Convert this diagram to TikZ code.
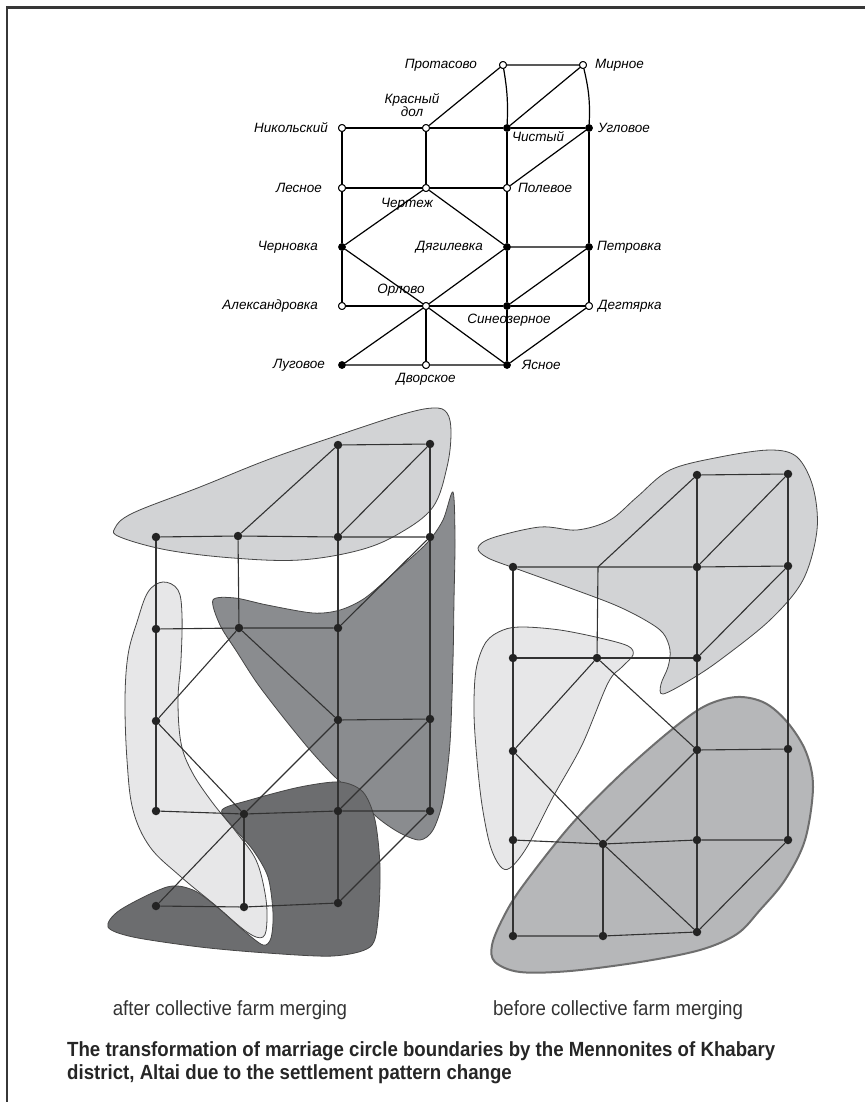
\documentclass[tikz,border=0pt]{standalone}
\usepackage{fontspec}
\setmainfont{Liberation Sans}
\newfontfamily\capfont{Liberation Sans}[FakeStretch=0.91]
\usepackage{tikz}
\usetikzlibrary{positioning}
\usepackage{xcolor}
\definecolor{framegrey}{RGB}{55,55,55}
\definecolor{dotgrey}{RGB}{35,35,35}
\definecolor{edgegrey}{RGB}{50,50,50}
\definecolor{rimgrey}{RGB}{70,70,70}
\definecolor{lightblob}{RGB}{210,211,213}
\definecolor{paleblob}{RGB}{231,231,232}
\definecolor{midblob}{RGB}{138,140,143}
\definecolor{darkblob}{RGB}{108,109,111}
\definecolor{softblob}{RGB}{182,183,185}
\definecolor{softrim}{RGB}{110,110,110}
\newcommand{\mapfont}{\fontsize{13.5}{11.5}\selectfont\itshape}

\begin{document}
\begin{tikzpicture}[x=1pt, y=-1pt, node distance=6pt,
  opendot/.style={circle, draw, fill=white, inner sep=0pt, minimum size=7pt, line width=0.9pt},
  fulldot/.style={circle, fill=black, inner sep=0pt, minimum size=7.5pt},
  gdot/.style={circle, fill=dotgrey, inner sep=0pt, minimum size=8.5pt},
  maplbl/.style={font=\mapfont, inner sep=0pt},
  mapline/.style={line width=1.2pt},
  gline/.style={draw=edgegrey, line width=1.1pt},
  blob/.style={draw=rimgrey, line width=0.8pt},
  subcap/.style={font=\capfont\fontsize{20.5}{22}\selectfont, text=black!80, inner sep=0pt}]
  \useasboundingbox (0,0) rectangle (865,1102);
  \draw[framegrey, line width=2.5pt] (7,1102) -- (7,7.5) -- (865,7.5);

  % --- old settlement map ---
  \node[opendot] (prot) at (503,65) {};
  \node[opendot] (mir) at (583,65) {};
  \node[opendot] (nik) at (342,128) {};
  \node[opendot] (kd) at (426,128) {};
  \node[fulldot] (chis) at (507,128) {};
  \node[fulldot] (ugl) at (589,128) {};
  \node[opendot] (les) at (342,188) {};
  \node[opendot] (cher) at (426,188) {};
  \node[opendot] (pol) at (507,188) {};
  \node[fulldot] (chern) at (342,247) {};
  \node[fulldot] (dyag) at (507,247) {};
  \node[fulldot] (petr) at (589,247) {};
  \node[opendot] (alex) at (342,306) {};
  \node[opendot] (orl) at (426,306) {};
  \node[fulldot] (sin) at (507,306) {};
  \node[opendot] (degt) at (589,306) {};
  \node[fulldot] (lug) at (342,365) {};
  \node[opendot] (dvor) at (426,365) {};
  \node[fulldot] (yas) at (507,365) {};

  \begin{scope}[mapline]
    \draw (nik) -- (kd) -- (chis) -- (ugl);
    \draw (kd) -- (prot) -- (mir) -- (chis);
    \draw (prot) to[bend left=6] (chis);
    \draw (mir) to[bend left=8] (ugl);
    \draw (nik) -- (les) -- (chern) -- (alex);
    \draw (kd) -- (cher);
    \draw (les) -- (cher) -- (pol);
    \draw (chis) -- (pol) -- (dyag) -- (sin) -- (yas);
    \draw (ugl) -- (pol);
    \draw (ugl) -- (petr) -- (degt);
    \draw (chern) -- (cher) -- (dyag);
    \draw (chern) -- (orl) -- (yas);
    \draw (lug) -- (orl) -- (dyag) -- (petr) -- (sin);
    \draw (alex) -- (orl) -- (sin) -- (degt);
    \draw (orl) -- (dvor);
    \draw (lug) -- (dvor) -- (yas) -- (degt);
  \end{scope}
  % redraw the dots over the lines
  \foreach \n in {prot,mir,nik,kd,les,cher,pol,alex,orl,degt,dvor}
    \node[opendot] at (\n) {};
  \foreach \n in {chis,ugl,chern,dyag,petr,sin,lug,yas}
    \node[fulldot] at (\n) {};

  \node[maplbl, left=22pt of prot] (tprot) {Протасово};
  \node[maplbl, right=8pt of mir] (tmir) {Мирное};
  \node[maplbl, align=center, above=7pt of kd, xshift=-14pt] (tkd) {Красный\\дол};
  \node[maplbl, left=10pt of nik] (tnik) {Никольский};
  \node[maplbl, below right=1pt and 2pt of chis] (tchis) {Чистый};
  \node[maplbl, right=5pt of ugl] (tugl) {Угловое};
  \node[maplbl, left=16pt of les] (tles) {Лесное};
  \node[maplbl, below=6pt of cher, xshift=-19pt] (tcher) {Чертеж};
  \node[maplbl, right=7pt of pol] (tpol) {Полевое};
  \node[maplbl, left=20pt of chern] (tchern) {Черновка};
  \node[maplbl, left=20pt of dyag] (tdyag) {Дягилевка};
  \node[maplbl, right=4pt of petr] (tpetr) {Петровка};
  \node[maplbl, above=6pt of orl, xshift=-25pt] (torl) {Орлово};
  \node[maplbl, left=20pt of alex] (talex) {Александровка};
  \node[maplbl, below=4pt of sin, xshift=2pt] (tsin) {Синеозерное};
  \node[maplbl, right=5pt of degt] (tdegt) {Дегтярка};
  \node[maplbl, left=13pt of lug] (tlug) {Луговое};
  \node[maplbl, below=4pt of dvor] (tdvor) {Дворское};
  \node[maplbl, right=11pt of yas] (tyas) {Ясное};

  % --- after merging: circles ---
  \fill[lightblob, blob] plot[smooth cycle, tension=0.6] coordinates {
    (115,528) (133,513) (200,487) (267,460) (333,437) (400,415) (433,408)
    (447,413) (451,433) (447,467) (433,507) (400,533) (360,550) (300,560)
    (233,558) (167,550) (120,537)};
  \fill[paleblob, blob] plot[smooth cycle, tension=0.6] coordinates {
    (163,582) (178,590) (182,615) (181,660) (178,700) (181,743) (192,772)
    (212,802) (237,833) (256,860) (265,893) (267,920) (263,937) (247,932)
    (215,905) (180,876) (150,847) (133,810) (127,760) (125,700) (128,655)
    (137,622) (148,592)};
  \fill[midblob, blob] plot[smooth cycle, tension=0.5] coordinates {
    (213,600) (235,598) (267,605) (313,613) (340,610) (365,598) (395,572)
    (427,543) (443,520) (453,492) (455,540) (454,600) (453,660) (450,743)
    (443,800) (433,830) (420,840) (400,833) (378,818) (355,795) (333,775)
    (310,750) (283,717) (257,683) (237,652) (220,625)};
  \fill[darkblob, blob] plot[smooth cycle, tension=0.5] coordinates {
    (222,810) (250,800) (300,787) (340,782) (363,792) (375,820) (380,867)
    (378,920) (370,947) (333,956) (267,953) (200,947) (133,937) (108,927)
    (120,910) (167,887) (193,890) (217,907) (243,930) (263,945) (271,938)
    (273,913) (268,877) (253,850) (233,827)};

  % --- after merging: graph ---
  \node[gdot] (Lprot) at (338,445) {};
  \node[gdot] (Lmir) at (430,444) {};
  \node[gdot] (Lnik) at (156,537) {};
  \node[gdot] (Lkd) at (238,536) {};
  \node[gdot] (Lchis) at (338,537) {};
  \node[gdot] (Lugl) at (430,537) {};
  \node[gdot] (Lles) at (156,629) {};
  \node[gdot] (Lcher) at (239,628) {};
  \node[gdot] (Lpol) at (338,628) {};
  \node[gdot] (Lchern) at (156,721) {};
  \node[gdot] (Ldyag) at (338,720) {};
  \node[gdot] (Lpetr) at (430,719) {};
  \node[gdot] (Lalex) at (156,811) {};
  \node[gdot] (Lorl) at (244,814) {};
  \node[gdot] (Lsin) at (338,811) {};
  \node[gdot] (Ldegt) at (430,811) {};
  \node[gdot] (Llug) at (156,906) {};
  \node[gdot] (Ldvor) at (244,907) {};
  \node[gdot] (Lyas) at (338,903) {};

  \begin{scope}[gline]
    \draw (Lnik) -- (Lkd) -- (Lchis) -- (Lugl);
    \draw (Lkd) -- (Lprot) -- (Lmir) -- (Lchis);
    \draw (Lprot) -- (Lchis);
    \draw (Lmir) -- (Lugl);
    \draw (Lnik) -- (Lles) -- (Lchern) -- (Lalex);
    \draw (Lkd) -- (Lcher);
    \draw (Lles) -- (Lcher) -- (Lpol);
    \draw (Lchis) -- (Lpol) -- (Ldyag) -- (Lsin) -- (Lyas);
    \draw (Lugl) -- (Lpol);
    \draw (Lugl) -- (Lpetr) -- (Ldegt);
    \draw (Lchern) -- (Lcher) -- (Ldyag);
    \draw (Lchern) -- (Lorl);
    \draw (Llug) -- (Lorl) -- (Ldyag) -- (Lpetr) -- (Lsin);
    \draw (Lalex) -- (Lorl) -- (Lsin) -- (Ldegt);
    \draw (Lorl) -- (Ldvor);
    \draw (Llug) -- (Ldvor) -- (Lyas) -- (Ldegt);
  \end{scope}

  % --- before merging: circles ---
  \fill[lightblob, blob] plot[smooth cycle, tension=0.55] coordinates {
    (478,548) (492,538) (540,527) (577,530) (610,520) (637,497) (670,470)
    (720,457) (770,450) (797,457) (813,487) (817,530) (803,580) (770,620)
    (720,660) (690,680) (663,694) (661,684) (668,667) (670,650) (663,633)
    (645,620) (615,605) (570,588) (520,570) (488,558)};
  \fill[paleblob, blob] plot[smooth cycle, tension=0.55] coordinates {
    (523,627) (560,630) (600,638) (628,646) (633,655) (622,667) (608,683)
    (582,745) (553,797) (527,847) (510,868) (500,866) (490,845) (482,805)
    (477,760) (474,713) (476,670) (486,642) (503,630)};
  \filldraw[softblob, draw=softrim, line width=2pt] plot[smooth cycle, tension=0.55] coordinates {
    (737,697) (765,703) (788,723) (806,752) (813,787) (805,840) (785,880)
    (760,910) (737,934) (700,950) (640,962) (570,971) (520,972) (495,962)
    (492,945) (503,918) (522,887) (570,826) (620,775) (670,731) (705,706)};

  % --- before merging: graph ---
  \node[gdot] (Rprot) at (697,475) {};
  \node[gdot] (Rmir) at (788,474) {};
  \node[gdot] (Rnik) at (513,567) {};
  \coordinate (Rkd) at (598,567);
  \node[gdot] (Rchis) at (697,567) {};
  \node[gdot] (Rugl) at (788,566) {};
  \node[gdot] (Rles) at (513,658) {};
  \node[gdot] (Rcher) at (597,658) {};
  \node[gdot] (Rpol) at (697,658) {};
  \node[gdot] (Rchern) at (513,751) {};
  \node[gdot] (Rdyag) at (697,750) {};
  \node[gdot] (Rpetr) at (788,749) {};
  \node[gdot] (Ralex) at (513,840) {};
  \node[gdot] (Rorl) at (603,844) {};
  \node[gdot] (Rsin) at (697,840) {};
  \node[gdot] (Rdegt) at (788,840) {};
  \node[gdot] (Rlug) at (513,936) {};
  \node[gdot] (Rdvor) at (603,936) {};
  \node[gdot] (Ryas) at (697,932) {};

  \begin{scope}[gline]
    \draw (Rnik) -- (Rkd) -- (Rchis) -- (Rugl);
    \draw (Rkd) -- (Rprot) -- (Rmir) -- (Rchis);
    \draw (Rprot) -- (Rchis);
    \draw (Rmir) -- (Rugl);
    \draw (Rnik) -- (Rles) -- (Rchern) -- (Ralex) -- (Rlug);
    \draw (Rkd) -- (Rcher);
    \draw (Rles) -- (Rcher) -- (Rpol);
    \draw (Rchis) -- (Rpol) -- (Rdyag) -- (Rsin) -- (Ryas);
    \draw (Rugl) -- (Rpol);
    \draw (Rugl) -- (Rpetr) -- (Rdegt);
    \draw (Rchern) -- (Rcher) -- (Rdyag);
    \draw (Rchern) -- (Rorl) -- (Ryas);
    \draw (Rorl) -- (Rdyag) -- (Rpetr);
    \draw (Ralex) -- (Rorl) -- (Rsin) -- (Rdegt);
    \draw (Rorl) -- (Rdvor);
    \draw (Rlug) -- (Rdvor) -- (Ryas) -- (Rdegt);
  \end{scope}

  % --- captions ---
  \node[subcap] (after) at (230,1010) {after collective farm merging};
  \node[subcap] (before) at (618,1010) {before collective farm merging};
  \node[font=\capfont\fontsize{20.5}{23}\selectfont\bfseries, text=black!85, align=left, inner sep=0pt,
    anchor=north west] (title) at (67,1041)
    {The transformation of marriage circle boundaries by the Mennonites of Khabary\\
     district, Altai  due to the settlement pattern change};
\end{tikzpicture}
\end{document}
